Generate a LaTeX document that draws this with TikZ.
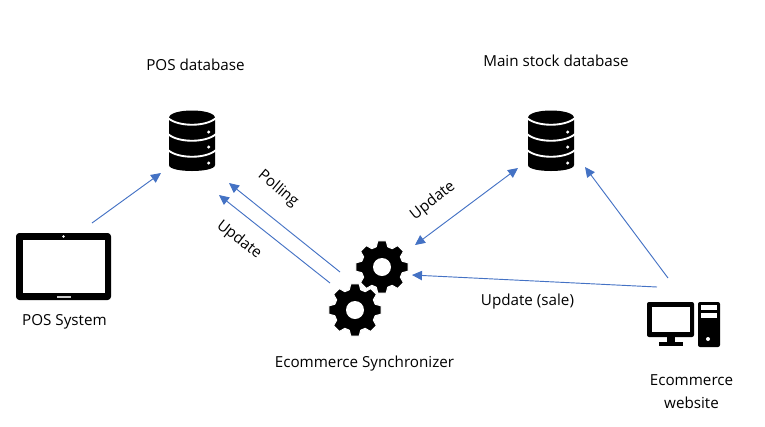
\documentclass[tikz,border=0pt]{standalone}
\usepackage{fontspec}
\setmainfont{Open Sans}
\usetikzlibrary{arrows.meta}
\definecolor{linkblue}{HTML}{4472C4}
\tikzset{
	textlabel/.style={inner sep=0pt, align=center, font=\fontsize{11.4}{17.2}\selectfont},
	spot/.style={inner sep=0pt, minimum size=0pt},
	link/.style={draw=linkblue, line width=0.7pt, -{Triangle[length=7.5pt,width=7pt]}},
	dblink/.style={draw=linkblue, line width=0.7pt, {Triangle[length=7.5pt,width=7pt]}-{Triangle[length=7.5pt,width=7pt]}},
	dbicon/.pic={
		\fill (-23,-23) .. controls (-23,-33) and (23,-33) .. (23,-23)
			-- (23,24) .. controls (23,32) and (-23,32) .. (-23,24) -- cycle;
		% White bands between the three discs
		\foreach \yy in {-23,-7,9}
			\draw[white, line width=1.4pt] (-24,\yy) .. controls (-14,\yy+9) and (14,\yy+9) .. (24,\yy);
		\foreach \yy in {-9,6,22}
			\fill[white] (16.7,\yy) circle (1.7);
	},
	gearicon/.pic={
		\fill[draw=white, line width=0.8pt, line join=round] (-16:21)
			\foreach \aa in {0,45,...,315} {
				-- (\aa-16:21) -- (\aa-9:26.5) -- (\aa+9:26.5) -- (\aa+16:21)
				arc[start angle=\aa+16, end angle=\aa+29, radius=21]
			} -- cycle;
		\fill[white] (0,0) circle (9);
	},
	tableticon/.pic={
		\fill[rounded corners=2.5pt] (-47.5,-33.5) rectangle (47.5,33.5);
		\fill[white] (-40.5,-26.5) rectangle (41.5,26.5);
		\fill[white] (0,-30) circle (1.3);
		\fill[white!80!black] (-7,29) rectangle (7,31.5);
	},
	pcicon/.pic={
		\fill[rounded corners=1.5pt] (-36.5,-22.5) rectangle (10.5,12.5);
		\fill[white] (-31.5,-17.5) rectangle (6.5,7.5);
		\fill (-16.5,12) rectangle (-8.5,18);
		\fill (-24.5,17.5) rectangle (-0.5,21.5);
		\fill[rounded corners=1.5pt] (14.5,-22.5) rectangle (36.5,22.5);
		\fill[white] (17.5,-19.5) rectangle (33.5,-14.5);
		\fill[white] (17.5,-11.5) rectangle (33.5,-6.5);
		\fill[white] (24.5,14.5) circle (2);
	},
}
\begin{document}
\begin{tikzpicture}[x=0.75pt, y=-0.75pt]
	\useasboundingbox (0,0) rectangle (765,426);

	% Icons
	\node (posdb) at (192,141) [spot] {};
	\node (stockdb) at (551,141) [spot] {};
	\node (tablet) at (63.5,266.5) [spot] {};
	\node (sync) at (368,288) [spot] {};
	\node (website) at (683.5,324.5) [spot] {};
	\pic at (posdb) {dbicon};
	\pic at (stockdb) {dbicon};
	\pic at (tablet) {tableticon};
	\pic at (382,267) {gearicon};
	\pic at (355,310) {gearicon};
	\pic at (website) {pcicon};

	% Labels
	\node (posdblabel) at (195.5,64.5) [textlabel] {POS database};
	\node (stockdblabel) at (556,60.5) [textlabel] {Main stock database};
	\node (tabletlabel) at (64.5,321.5) [textlabel] {POS System};
	\node (synclabel) at (364.5,363.5) [textlabel] {Ecommerce Synchronizer};
	\node (websitelabel) at (691.5,392) [textlabel] {Ecommerce\\website};
	\node (salelabel) at (527.5,301.5) [textlabel] {Update (sale)};
	\node (pollinglabel) at (278,189) [textlabel, rotate=-40] {Polling};
	\node (updatelabel) at (239,240) [textlabel, rotate=-38] {Update};
	\node (stocklabel) at (433,201) [textlabel, rotate=38] {Update};

	% Connectors
	\draw[link] ([shift={(28.5,-43.5)}]tablet.center) -- ([shift={(-31,32)}]posdb.center);
	\draw[link] ([shift={(-28,-16)}]sync.center) -- ([shift={(37,42)}]posdb.center);
	\draw[link] ([shift={(-38,-5)}]sync.center) -- ([shift={(27,54)}]posdb.center);
	\draw[dblink] ([shift={(47,-43)}]sync.center) -- ([shift={(-33,27)}]stockdb.center);
	\draw[link] ([shift={(-26.5,-37.5)}]website.center) -- ([shift={(44,-13)}]sync.center);
	\draw[link] ([shift={(-15.5,-46.5)}]website.center) -- ([shift={(34,26)}]stockdb.center);
\end{tikzpicture}
\end{document}
